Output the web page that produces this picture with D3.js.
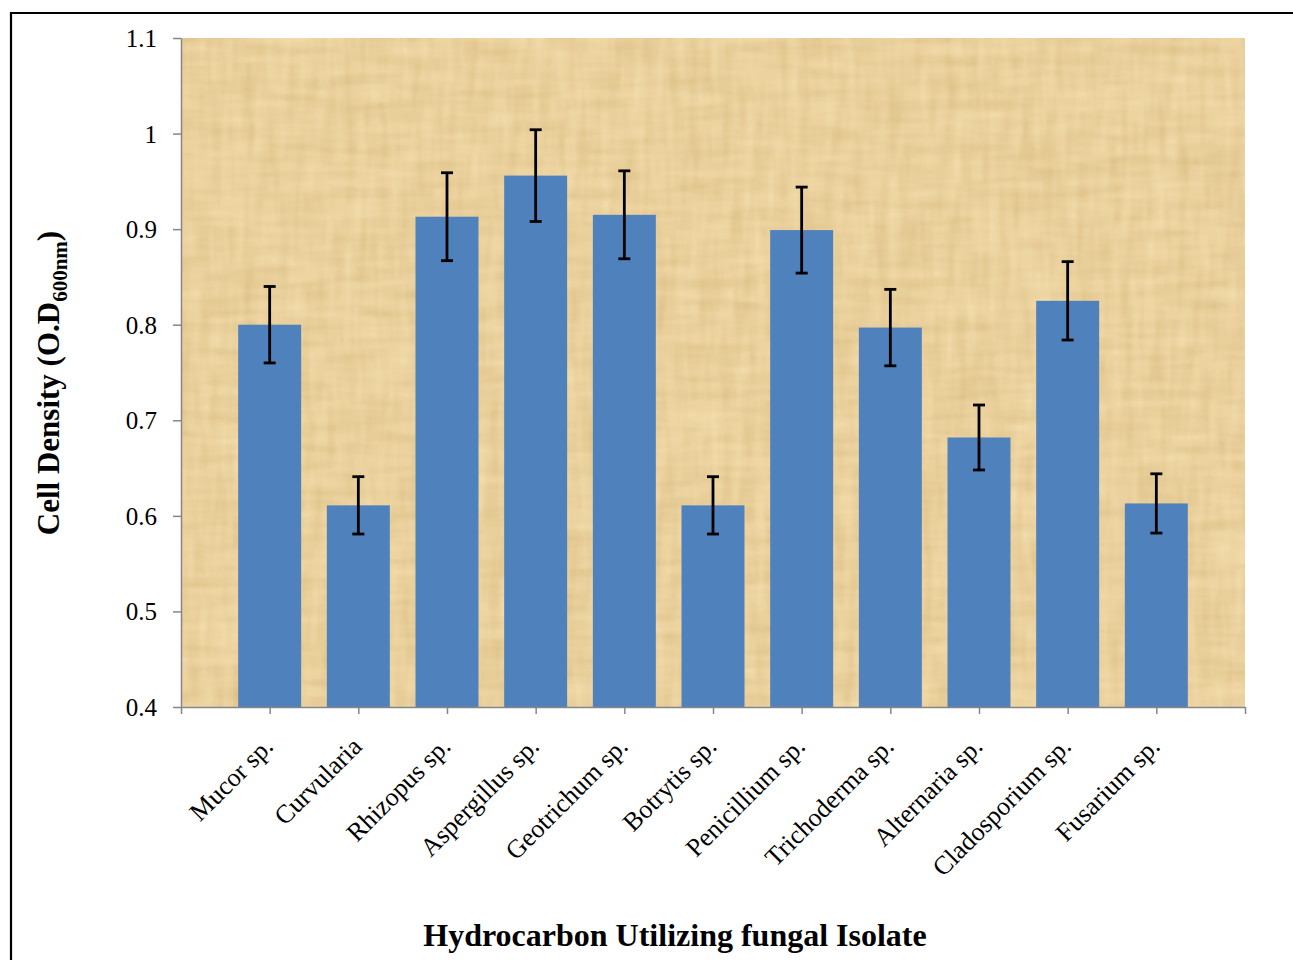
<!DOCTYPE html>
<html>
<head>
<meta charset="utf-8">
<script src="https://cdn.jsdelivr.net/npm/d3@7"></script>
<style>
  html, body { margin: 0; padding: 0; background: #fff; }
  svg { display: block; }
  .axis path, .axis line { stroke: #868686; stroke-width: 1.5; }
  .axis text { font-family: "Liberation Serif", "Times New Roman", serif; fill: #000; }
</style>
</head>
<body>
<svg id="chart" width="1293" height="960"></svg>
<script>
// Fungal isolates and their mean cell density (OD600) with error margins
const isolates = [
  "Mucor sp.", "Curvularia", "Rhizopus sp.", "Aspergillus sp.", "Geotrichum sp.",
  "Botrytis sp.", "Penicillium sp.", "Trichoderma sp.", "Alternaria sp.",
  "Cladosporium sp.", "Fusarium sp."
];
const density = [0.800, 0.611, 0.913, 0.956, 0.915, 0.611, 0.899, 0.797, 0.682, 0.825, 0.613];
const errors  = [0.040, 0.030, 0.046, 0.048, 0.046, 0.030, 0.045, 0.040, 0.034, 0.041, 0.031];
const yTicks  = [0.4, 0.5, 0.6, 0.7, 0.8, 0.9, 1, 1.1];

const svg = d3.select("#chart");
const plot = { left: 181, right: 1245, top: 38, bottom: 707 };
const serif = '"Liberation Serif", "Times New Roman", serif';

// Page frame
svg.append("path")
  .attr("d", "M11,960 L11,13 L1293,13")
  .attr("fill", "none").attr("stroke", "#000").attr("stroke-width", 2.2);

// Papyrus-style fibre texture for the plot background
const defs = svg.append("defs");
const f = defs.append("filter").attr("id", "papyrus")
  .attr("x", 0).attr("y", 0).attr("width", "100%").attr("height", "100%")
  .attr("color-interpolation-filters", "sRGB");
f.append("feTurbulence").attr("type", "fractalNoise").attr("baseFrequency", "0.015 0.09")
  .attr("numOctaves", 2).attr("seed", 4).attr("result", "horiz");
f.append("feTurbulence").attr("type", "fractalNoise").attr("baseFrequency", "0.09 0.015")
  .attr("numOctaves", 2).attr("seed", 9).attr("result", "vert");
f.append("feComposite").attr("in", "horiz").attr("in2", "vert").attr("operator", "arithmetic")
  .attr("k2", 0.5).attr("k3", 0.5).attr("result", "mix");
f.append("feColorMatrix").attr("in", "mix").attr("type", "matrix")
  .attr("values", [
    "0.13 0 0 0 0.85",
    "0.17 0 0 0 0.73",
    "0.22 0 0 0 0.50",
    "0 0 0 0 1"
  ].join(" "));

svg.append("rect")
  .attr("x", plot.left).attr("y", plot.top)
  .attr("width", plot.right - plot.left).attr("height", plot.bottom - plot.top)
  .attr("fill", "#E8CF99")
  .attr("filter", "url(#papyrus)");

// Scales: one slot per isolate, with bars centred on interior tick positions
const x = d3.scaleLinear().domain([0, isolates.length + 1]).range([plot.left, plot.right]);
const step = x(1) - x(0);
const barW = step * 0.71;
const y = d3.scaleLinear().domain([0.4, 1.1]).range([plot.bottom, plot.top]);

// Bars
svg.append("g").selectAll("rect").data(density).join("rect")
  .attr("x", (d, i) => x(i + 1) - barW / 2)
  .attr("y", d => y(d))
  .attr("width", barW)
  .attr("height", d => y(0.4) - y(d))
  .attr("fill", "#4F81BD");

// Error bars
const eb = svg.append("g").attr("stroke", "#000").attr("stroke-width", 2.8);
density.forEach((d, i) => {
  const cx = x(i + 1), hi = y(d + errors[i]), lo = y(d - errors[i]);
  eb.append("line").attr("x1", cx).attr("x2", cx).attr("y1", hi).attr("y2", lo);
  eb.append("line").attr("x1", cx - 6).attr("x2", cx + 6).attr("y1", hi).attr("y2", hi);
  eb.append("line").attr("x1", cx - 6).attr("x2", cx + 6).attr("y1", lo).attr("y2", lo);
});

// Y axis
const yAxis = svg.append("g").attr("class", "axis")
  .attr("transform", `translate(${plot.left},0)`)
  .call(d3.axisLeft(y).tickValues(yTicks).tickSize(8).tickSizeOuter(0)
    .tickFormat(d => d === 1 ? "1" : d3.format(".1f")(d)).tickPadding(16));
yAxis.selectAll("text").style("font-size", "25px").attr("dy", "0.34em");

// X axis: ticks at every slot boundary / bar centre
svg.append("g").attr("class", "axis")
  .attr("transform", `translate(0,${plot.bottom})`)
  .call(d3.axisBottom(x).tickValues(d3.range(0, isolates.length + 2)).tickSize(7)
    .tickSizeOuter(0).tickFormat(""));

// Rotated category labels
svg.append("g").selectAll("text").data(isolates).join("text")
  .attr("transform", (d, i) => `translate(${x(i + 1) + 5},${plot.bottom + 41}) rotate(-45)`)
  .attr("text-anchor", "end")
  .style("font-family", serif).style("font-size", "26px")
  .text(d => d);

// Axis titles
svg.append("text")
  .attr("x", 675).attr("y", 946)
  .attr("text-anchor", "middle")
  .style("font-family", serif).style("font-size", "32px").style("font-weight", "bold")
  .text("Hydrocarbon Utilizing fungal Isolate");

const yt = svg.append("text")
  .attr("transform", "translate(59,383) rotate(-90)")
  .attr("text-anchor", "middle")
  .style("font-family", serif).style("font-size", "31px").style("font-weight", "bold");
yt.append("tspan").text("Cell Density (O.D");
yt.append("tspan").attr("dy", 8).style("font-size", "21px").text("600nm");
yt.append("tspan").attr("dy", -8).text(")");
</script>
</body>
</html>
